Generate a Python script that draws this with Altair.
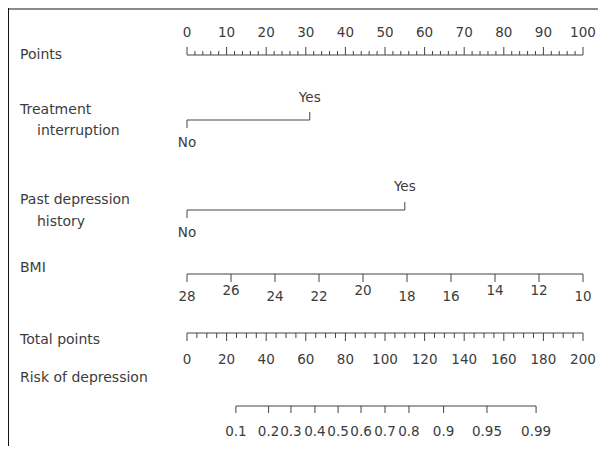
import altair as alt
import pandas as pd

# ---------------- data ----------------
points_major = list(range(0, 101, 10))
points_minor = [v for v in range(0, 101, 2) if v % 10 != 0]

treat_levels = ["No", "Yes"]
treat_points = [0, 31]

past_levels = ["No", "Yes"]
past_points = [0, 55]

bmi_ticks = [28, 26, 24, 22, 20, 18, 16, 14, 12, 10]
bmi_raised = [26, 20, 14, 12]

total_major = list(range(0, 201, 20))
total_minor = [v for v in range(0, 201, 5) if v % 20 != 0]

risk_labels = ["0.1", "0.2", "0.3", "0.4", "0.5", "0.6", "0.7", "0.8", "0.9", "0.95", "0.99"]
risk_at_total = [24.7, 41.2, 52.5, 64.6, 76.3, 87.9, 100.0, 112.1, 129.6, 151.5, 176.3]

row_titles = ["Points", "Treatment", "interruption", "Past depression", "history",
              "BMI", "Total points", "Risk of depression"]

# ---------------- layout / style (page pixel coordinates) ----------------
W, H = 590, 438
OFF = 8
X0, X1 = 187, 583
FONT = "DejaVu Sans"
FS_TITLE = 14
FS_NUM = 13.5
TXT = "#3c3c3c"
LINE = "#444444"

title_x = [20, 20, 37, 20, 37, 20, 20, 20]
title_y = [55, 110, 131, 200, 222, 268, 340, 378]

Y_POINTS_LINE, Y_POINTS_LAB = 55, 33
Y_TREAT_LINE, Y_TREAT_YES, Y_TREAT_NO = 120, 98, 143
Y_PAST_LINE, Y_PAST_YES, Y_PAST_NO = 210, 187, 233
Y_BMI_LINE, Y_BMI_LAB, Y_BMI_LAB_HI = 274, 297, 291
Y_TOT_LINE, Y_TOT_LAB = 333, 360
Y_RISK_LINE, Y_RISK_LAB = 406, 432


def xs(domain):
    return alt.Scale(domain=domain, range=[X0 - OFF, X1 - OFF], zero=False, nice=False)


def baseline(lo, hi, domain, y):
    df = pd.DataFrame({"a": [lo], "b": [hi]})
    return alt.Chart(df).mark_rule(color=LINE, strokeWidth=1).encode(
        x=alt.X("a:Q", scale=xs(domain), axis=None),
        x2="b:Q",
        y=alt.value(y - OFF),
    )


def ticks(values, domain, y, length):
    df = pd.DataFrame({"v": values})
    return alt.Chart(df).mark_rule(color=LINE, strokeWidth=1).encode(
        x=alt.X("v:Q", scale=xs(domain), axis=None),
        y=alt.value(y - OFF),
        y2=alt.value(y - OFF + length),
    )


def labels(values, texts, ys, domain):
    df = pd.DataFrame({"v": values, "t": texts, "yy": [yv - OFF for yv in ys]})
    return alt.Chart(df).mark_text(font=FONT, fontSize=FS_NUM, color=TXT,
                                   align="center", baseline="middle").encode(
        x=alt.X("v:Q", scale=xs(domain), axis=None),
        y=alt.Y("yy:Q", scale=None, axis=None),
        text="t:N",
    )


layers = []

# Points row
layers += [
    baseline(0, 100, [0, 100], Y_POINTS_LINE),
    ticks(points_major, [0, 100], Y_POINTS_LINE, -8),
    ticks(points_minor, [0, 100], Y_POINTS_LINE, -4),
    labels(points_major, [str(v) for v in points_major],
           [Y_POINTS_LAB] * len(points_major), [0, 100]),
]

# Treatment interruption row
layers += [
    baseline(treat_points[0], treat_points[1], [0, 100], Y_TREAT_LINE),
    ticks([treat_points[0]], [0, 100], Y_TREAT_LINE, 8),
    ticks([treat_points[1]], [0, 100], Y_TREAT_LINE, -8),
    labels(treat_points, treat_levels, [Y_TREAT_NO, Y_TREAT_YES], [0, 100]),
]

# Past depression history row
layers += [
    baseline(past_points[0], past_points[1], [0, 100], Y_PAST_LINE),
    ticks([past_points[0]], [0, 100], Y_PAST_LINE, 8),
    ticks([past_points[1]], [0, 100], Y_PAST_LINE, -8),
    labels(past_points, past_levels, [Y_PAST_NO, Y_PAST_YES], [0, 100]),
]

# BMI row
bmi_dom = [bmi_ticks[0], bmi_ticks[-1]]
layers += [
    baseline(bmi_ticks[0], bmi_ticks[-1], bmi_dom, Y_BMI_LINE),
    ticks(bmi_ticks, bmi_dom, Y_BMI_LINE, 8),
    labels(bmi_ticks, [str(v) for v in bmi_ticks],
           [Y_BMI_LAB_HI if v in bmi_raised else Y_BMI_LAB for v in bmi_ticks], bmi_dom),
]

# Total points row
layers += [
    baseline(0, 200, [0, 200], Y_TOT_LINE),
    ticks(total_major, [0, 200], Y_TOT_LINE, 8),
    ticks(total_minor, [0, 200], Y_TOT_LINE, 5),
    labels(total_major, [str(v) for v in total_major],
           [Y_TOT_LAB] * len(total_major), [0, 200]),
]

# Risk row
layers += [
    baseline(risk_at_total[0], risk_at_total[-1], [0, 200], Y_RISK_LINE),
    ticks(risk_at_total, [0, 200], Y_RISK_LINE, 7),
    labels(risk_at_total, risk_labels, [Y_RISK_LAB] * len(risk_labels), [0, 200]),
]

# Row titles
tdf = pd.DataFrame({"t": row_titles,
                    "xx": [v - OFF for v in title_x],
                    "yy": [v - OFF for v in title_y]})
layers.append(
    alt.Chart(tdf).mark_text(font=FONT, fontSize=FS_TITLE, color=TXT,
                             align="left", baseline="middle").encode(
        x=alt.X("xx:Q", scale=None, axis=None),
        y=alt.Y("yy:Q", scale=None, axis=None),
        text="t:N",
    )
)

# Frame lines (top gray, left black)
layers.append(alt.Chart(pd.DataFrame({"k": [0]})).mark_rule(color="#8a8a8a", strokeWidth=2).encode(
    x=alt.value(0), x2=alt.value(W), y=alt.value(1)))
layers.append(alt.Chart(pd.DataFrame({"k": [0]})).mark_rule(color="#111111", strokeWidth=2).encode(
    x=alt.value(0), y=alt.value(0), y2=alt.value(H)))

chart = alt.layer(*layers).resolve_scale(x="independent", y="independent").properties(
    width=W, height=H, autosize=alt.AutoSizeParams(type="none"), padding=0
).configure_view(stroke=None).configure(background="white")

chart.save("out.html", embed_options={"renderer": "svg", "actions": False})
